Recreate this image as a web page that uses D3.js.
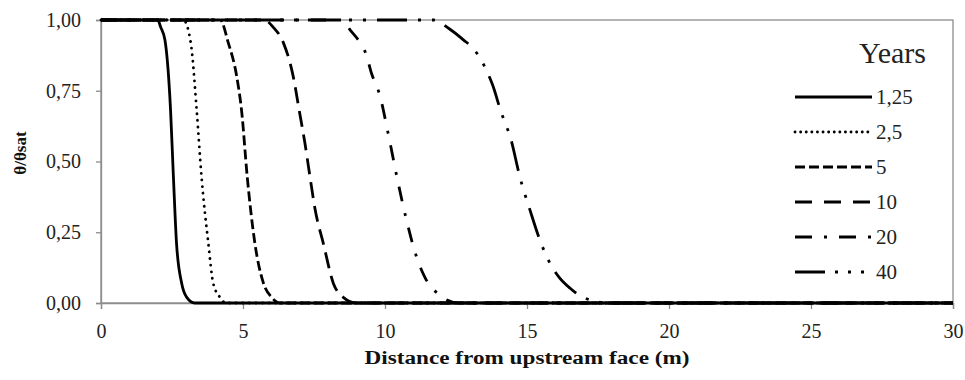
<!DOCTYPE html>
<html>
<head>
<meta charset="utf-8">
<script src="https://cdn.jsdelivr.net/npm/d3@7"></script>
<style>
  body { margin: 0; background: #fff; }
  svg text { font-family: "Times New Roman", Times, "Liberation Serif", "DejaVu Serif", serif; }
</style>
</head>
<body>
<script>
// Saturation profiles: [distance (m), theta/theta_sat]
const years = ["1,25", "2,5", "5", "10", "20", "40"];

const profile125 = [[0, 1], [2.0, 1], [2.1, 0.975], [2.25, 0.93], [2.45, 0.68], [2.55, 0.445], [2.66, 0.21], [2.84, 0.07], [3.02, 0.02], [3.3, 0], [30, 0]];
const profile25 = [[0, 1], [2.9, 1], [3.16, 0.92], [3.37, 0.68], [3.54, 0.445], [3.78, 0.21], [3.95, 0.07], [4.19, 0.02], [4.4, 0], [30, 0]];
const profile5 = [[0, 1], [4.2, 1], [4.48, 0.92], [4.78, 0.8], [4.95, 0.68], [5.15, 0.445], [5.42, 0.21], [5.72, 0.07], [6.01, 0.02], [6.3, 0], [30, 0]];
const profile10 = [[0, 1], [5.75, 1], [6.06, 0.975], [6.42, 0.92], [6.77, 0.8], [6.98, 0.68], [7.18, 0.565], [7.36, 0.445], [7.54, 0.33], [7.83, 0.21], [8.18, 0.07], [8.53, 0.02], [9.0, 0], [30, 0]];
const profile20 = [[0, 1], [8.5, 1], [8.77, 0.965], [9.12, 0.92], [9.33, 0.88], [9.53, 0.81], [9.8, 0.74], [10.13, 0.59], [10.42, 0.445], [10.74, 0.30], [11.12, 0.16], [11.41, 0.09], [11.9, 0.03], [12.6, 0], [30, 0]];
const profile40 = [[0, 1], [11.7, 1], [12.25, 0.97], [12.76, 0.93], [13.1, 0.9], [13.32, 0.87], [13.58, 0.82], [13.79, 0.77], [14.07, 0.68], [14.44, 0.576], [14.75, 0.445], [15.1, 0.33], [15.5, 0.21], [15.81, 0.14], [16.14, 0.09], [16.51, 0.053], [16.97, 0.02], [17.9, 0], [30, 0]];

const profiles = [profile125, profile25, profile5, profile10, profile20, profile40];

const xTicks = [0, 5, 10, 15, 20, 25, 30];
const yTicks = [0, 0.25, 0.5, 0.75, 1];

// line patterns per series (plot, then legend sample)
const dashes = ["none", "0.1 6.5", "10 4", "16 8", "15 12 3 12", "30 11 3 11 3 11"];
const legendDashes = ["none", "0.1 5.5", "10 4", "17 12", "17 12 3 12", "30 10 3 10 3 10 3 10"];
const caps = ["butt", "round", "butt", "butt", "butt", "butt"];

const width = 965, height = 380;
const margin = {top: 20, right: 12, bottom: 77, left: 101};
const graphWidth = width - margin.left - margin.right;
const graphHeight = height - margin.top - margin.bottom;
const axisGrey = "#8c8c8c";
const serif = '"Times New Roman", Times, "Liberation Serif", "DejaVu Serif", serif';

const svg = d3.select("body")
    .append("svg")
    .attr("width", width)
    .attr("height", height)
    .attr("font-family", serif);

const graph = svg.append("g")
    .attr("transform", `translate(${margin.left}, ${margin.top})`);

const x = d3.scaleLinear().domain([0, 30]).range([0, graphWidth]);
const y = d3.scaleLinear().domain([0, 1]).range([graphHeight, 0]);

const fmt = d3.format(".2f");

// plot area border
graph.append("rect")
    .attr("width", graphWidth)
    .attr("height", graphHeight)
    .attr("fill", "none")
    .attr("stroke", axisGrey)
    .attr("stroke-width", 1.3);

// axes
const xAxis = graph.append("g")
    .attr("transform", `translate(0, ${graphHeight})`)
    .call(d3.axisBottom(x).tickValues(xTicks).tickSize(6).tickPadding(15).tickFormat(d3.format("d")));

const yAxis = graph.append("g")
    .call(d3.axisLeft(y).tickValues(yTicks).tickSize(5).tickPadding(15).tickFormat(d => fmt(d).replace(".", ",")));

[xAxis, yAxis].forEach(a => {
    a.attr("font-family", serif);
    a.selectAll(".domain, line").attr("stroke", axisGrey).attr("stroke-width", 1.3);
    a.selectAll("text")
        .attr("font-size", 20)
        .attr("fill", "#222");
});

// saturation curves
const line = d3.line()
    .x(d => x(d[0]))
    .y(d => y(d[1]))
    .curve(d3.curveMonotoneX);

graph.append("g")
    .selectAll("path")
    .data(profiles)
    .join("path")
    .attr("d", line)
    .attr("fill", "none")
    .attr("stroke", "#000")
    .attr("stroke-width", 2.8)
    .attr("stroke-linecap", (d, i) => caps[i])
    .attr("stroke-dasharray", (d, i) => dashes[i]);

// legend
const legend = svg.append("g")
    .attr("transform", "translate(795, 0)");

legend.append("text")
    .attr("x", 131)
    .attr("y", 63)
    .attr("text-anchor", "end")
    .attr("font-size", 30)
    .attr("fill", "#222")
    .text("Years");

const rows = legend.selectAll("g.row")
    .data(years)
    .join("g")
    .attr("class", "row")
    .attr("transform", (d, i) => `translate(0, ${97 + i * 35})`);

rows.append("line")
    .attr("x1", 0)
    .attr("x2", 77)
    .attr("stroke", "#000")
    .attr("stroke-width", 2.8)
    .attr("stroke-linecap", (d, i) => caps[i])
    .attr("stroke-dasharray", (d, i) => legendDashes[i]);

rows.append("text")
    .attr("x", 81)
    .attr("y", 7)
    .attr("font-size", 21)
    .attr("fill", "#222")
    .text(d => d);

// axis titles
svg.append("text")
    .attr("x", margin.left + graphWidth / 2)
    .attr("y", 364)
    .attr("text-anchor", "middle")
    .attr("font-weight", "bold")
    .attr("font-size", 18)
    .attr("textLength", 325)
    .attr("lengthAdjust", "spacingAndGlyphs")
    .attr("fill", "#111")
    .text("Distance from upstream face (m)");

svg.append("text")
    .attr("transform", "translate(26, 153) rotate(-90)")
    .attr("text-anchor", "middle")
    .attr("font-weight", "bold")
    .attr("font-size", 17)
    .attr("fill", "#111")
    .text("θ/θsat");
</script>
</body>
</html>
